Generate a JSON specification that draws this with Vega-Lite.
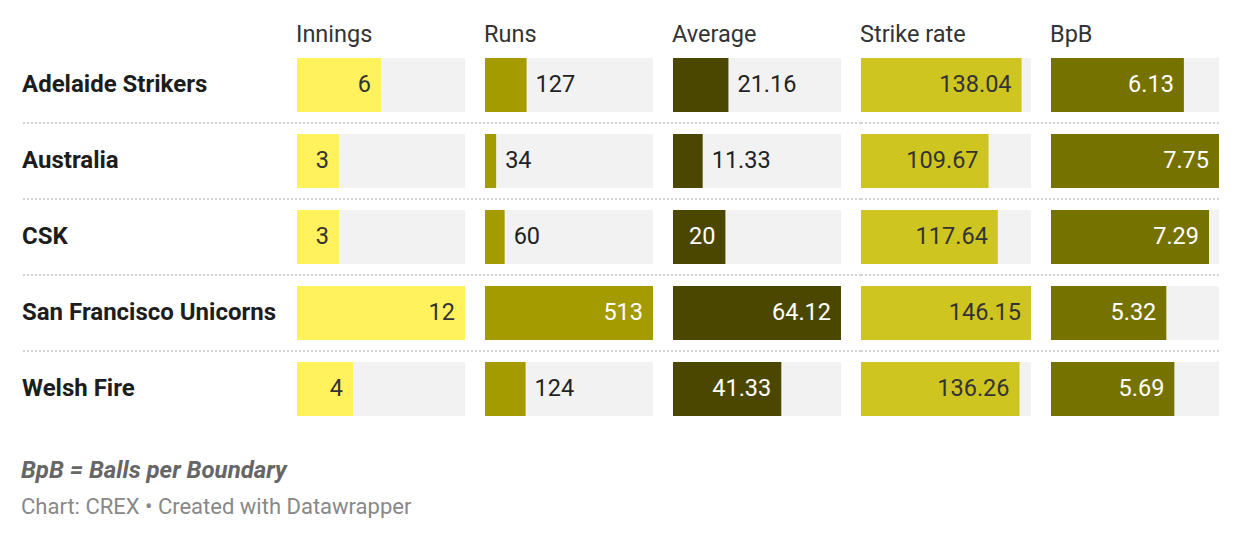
{
  "$schema": "https://vega.github.io/schema/vega-lite/v6.json",
  "description": "Datawrapper-style table of batting stats with bars in each cell.",
  "padding": {"left": 21, "top": 22, "right": 0, "bottom": 0},
  "background": "white",
  "bounds": "flush",
  "title": {
    "text": "BpB = Balls per Boundary",
    "subtitle": "Chart: CREX • Created with Datawrapper",
    "orient": "bottom",
    "anchor": "start",
    "offset": 32,
    "fontSize": 24,
    "fontWeight": "bold",
    "fontStyle": "italic",
    "color": "#666666",
    "subtitleFont": "Roboto",
    "subtitleFontSize": 22,
    "subtitleColor": "#888888",
    "subtitlePadding": 14
  },
  "data": {
    "values": [
      {"team": "Adelaide Strikers", "Innings": 6, "Runs": 127, "Average": 21.16, "StrikeRate": 138.04, "BpB": 6.13},
      {"team": "Australia", "Innings": 3, "Runs": 34, "Average": 11.33, "StrikeRate": 109.67, "BpB": 7.75},
      {"team": "CSK", "Innings": 3, "Runs": 60, "Average": 20, "StrikeRate": 117.64, "BpB": 7.29},
      {"team": "San Francisco Unicorns", "Innings": 12, "Runs": 513, "Average": 64.12, "StrikeRate": 146.15, "BpB": 5.32},
      {"team": "Welsh Fire", "Innings": 4, "Runs": 124, "Average": 41.33, "StrikeRate": 136.26, "BpB": 5.69}
    ]
  },
  "spacing": 0,
  "hconcat": [
    {
      "width": 275,
      "height": 380,
      "title": {"text": " "},
      "layer": [
        {
          "transform": [{"filter": "datum.team != 'Welsh Fire'"}],
          "mark": {"type": "rule", "strokeDash": [2, 2], "strokeWidth": 2, "color": "#d4d4d4"},
          "encoding": {"y": {"field": "team", "type": "nominal", "bandPosition": 1, "axis": null}}
        },
        {
          "mark": {"type": "text", "align": "left", "baseline": "middle", "font": "Roboto", "fontSize": 24, "fontWeight": "bold", "color": "#1d1d1d"},
          "encoding": {
            "y": {"field": "team", "type": "nominal", "axis": null},
            "x": {"value": 0},
            "text": {"field": "team"}
          }
        }
      ]
    },
    {
      "width": 188,
      "height": 380,
      "title": {"text": "Innings"},
      "encoding": {
        "y": {"field": "team", "type": "nominal", "axis": null}
      },
      "layer": [
        {
          "transform": [{"filter": "datum.team != 'Welsh Fire'"}],
          "mark": {"type": "rule", "strokeDash": [2, 2], "strokeWidth": 2, "color": "#d4d4d4"},
          "encoding": {"y": {"field": "team", "type": "nominal", "bandPosition": 1, "axis": null}}
        },
        {
          "mark": {"type": "bar", "color": "#f2f2f2", "height": {"band": 0.71}},
          "encoding": {"x": {"datum": 12, "type": "quantitative", "scale": {"domain": [0, 13.4286], "nice": false}, "axis": null}}
        },
        {
          "mark": {"type": "bar", "color": "#fff25c", "height": {"band": 0.71}},
          "encoding": {"x": {"field": "Innings", "type": "quantitative", "axis": null}}
        },
        {
          "transform": [{"filter": "datum.Innings / 12 * 168 >= length(toString(datum.Innings)) * 13 + 20"}],
          "mark": {"type": "text", "align": "right", "dx": -10, "font": "Roboto", "fontSize": 23.5, "color": "#333333"},
          "encoding": {"x": {"field": "Innings", "type": "quantitative", "axis": null}, "text": {"field": "Innings", "type": "nominal"}}
        },
        {
          "transform": [{"filter": "datum.Innings / 12 * 168 < length(toString(datum.Innings)) * 13 + 20"}],
          "mark": {"type": "text", "align": "left", "dx": 9, "font": "Roboto", "fontSize": 23.5, "color": "#222222"},
          "encoding": {"x": {"field": "Innings", "type": "quantitative", "axis": null}, "text": {"field": "Innings", "type": "nominal"}}
        }
      ]
    },
    {
      "width": 188,
      "height": 380,
      "title": {"text": "Runs"},
      "encoding": {
        "y": {"field": "team", "type": "nominal", "axis": null}
      },
      "layer": [
        {
          "transform": [{"filter": "datum.team != 'Welsh Fire'"}],
          "mark": {"type": "rule", "strokeDash": [2, 2], "strokeWidth": 2, "color": "#d4d4d4"},
          "encoding": {"y": {"field": "team", "type": "nominal", "bandPosition": 1, "axis": null}}
        },
        {
          "mark": {"type": "bar", "color": "#f2f2f2", "height": {"band": 0.71}},
          "encoding": {"x": {"datum": 513, "type": "quantitative", "scale": {"domain": [0, 574.071], "nice": false}, "axis": null}}
        },
        {
          "mark": {"type": "bar", "color": "#a39b00", "height": {"band": 0.71}},
          "encoding": {"x": {"field": "Runs", "type": "quantitative", "axis": null}}
        },
        {
          "transform": [{"filter": "datum.Runs / 513 * 168 >= length(toString(datum.Runs)) * 13 + 20"}],
          "mark": {"type": "text", "align": "right", "dx": -10, "font": "Roboto", "fontSize": 23.5, "color": "#ffffff"},
          "encoding": {"x": {"field": "Runs", "type": "quantitative", "axis": null}, "text": {"field": "Runs", "type": "nominal"}}
        },
        {
          "transform": [{"filter": "datum.Runs / 513 * 168 < length(toString(datum.Runs)) * 13 + 20"}],
          "mark": {"type": "text", "align": "left", "dx": 9, "font": "Roboto", "fontSize": 23.5, "color": "#222222"},
          "encoding": {"x": {"field": "Runs", "type": "quantitative", "axis": null}, "text": {"field": "Runs", "type": "nominal"}}
        }
      ]
    },
    {
      "width": 188,
      "height": 380,
      "title": {"text": "Average"},
      "encoding": {
        "y": {"field": "team", "type": "nominal", "axis": null}
      },
      "layer": [
        {
          "transform": [{"filter": "datum.team != 'Welsh Fire'"}],
          "mark": {"type": "rule", "strokeDash": [2, 2], "strokeWidth": 2, "color": "#d4d4d4"},
          "encoding": {"y": {"field": "team", "type": "nominal", "bandPosition": 1, "axis": null}}
        },
        {
          "mark": {"type": "bar", "color": "#f2f2f2", "height": {"band": 0.71}},
          "encoding": {"x": {"datum": 64.12, "type": "quantitative", "scale": {"domain": [0, 71.7533], "nice": false}, "axis": null}}
        },
        {
          "mark": {"type": "bar", "color": "#4b4700", "height": {"band": 0.71}},
          "encoding": {"x": {"field": "Average", "type": "quantitative", "axis": null}}
        },
        {
          "transform": [{"filter": "datum.Average / 64.12 * 168 >= length(toString(datum.Average)) * 13 + 20"}],
          "mark": {"type": "text", "align": "right", "dx": -10, "font": "Roboto", "fontSize": 23.5, "color": "#ffffff"},
          "encoding": {"x": {"field": "Average", "type": "quantitative", "axis": null}, "text": {"field": "Average", "type": "nominal"}}
        },
        {
          "transform": [{"filter": "datum.Average / 64.12 * 168 < length(toString(datum.Average)) * 13 + 20"}],
          "mark": {"type": "text", "align": "left", "dx": 9, "font": "Roboto", "fontSize": 23.5, "color": "#222222"},
          "encoding": {"x": {"field": "Average", "type": "quantitative", "axis": null}, "text": {"field": "Average", "type": "nominal"}}
        }
      ]
    },
    {
      "width": 190,
      "height": 380,
      "title": {"text": "Strike rate"},
      "encoding": {
        "y": {"field": "team", "type": "nominal", "axis": null}
      },
      "layer": [
        {
          "transform": [{"filter": "datum.team != 'Welsh Fire'"}],
          "mark": {"type": "rule", "strokeDash": [2, 2], "strokeWidth": 2, "color": "#d4d4d4"},
          "encoding": {"y": {"field": "team", "type": "nominal", "bandPosition": 1, "axis": null}}
        },
        {
          "mark": {"type": "bar", "color": "#f2f2f2", "height": {"band": 0.71}},
          "encoding": {"x": {"datum": 146.15, "type": "quantitative", "scale": {"domain": [0, 163.344], "nice": false}, "axis": null}}
        },
        {
          "mark": {"type": "bar", "color": "#cfc521", "height": {"band": 0.71}},
          "encoding": {"x": {"field": "StrikeRate", "type": "quantitative", "axis": null}}
        },
        {
          "mark": {"type": "text", "align": "right", "dx": -10, "font": "Roboto", "fontSize": 23.5, "color": "#333333"},
          "encoding": {"x": {"field": "StrikeRate", "type": "quantitative", "axis": null}, "text": {"field": "StrikeRate", "type": "nominal"}}
        }
      ]
    },
    {
      "width": 168,
      "height": 380,
      "title": {"text": "BpB"},
      "encoding": {
        "y": {"field": "team", "type": "nominal", "axis": null}
      },
      "layer": [
        {
          "transform": [{"filter": "datum.team != 'Welsh Fire'"}],
          "mark": {"type": "rule", "strokeDash": [2, 2], "strokeWidth": 2, "color": "#d4d4d4"},
          "encoding": {"y": {"field": "team", "type": "nominal", "bandPosition": 1, "axis": null}}
        },
        {
          "mark": {"type": "bar", "color": "#f2f2f2", "height": {"band": 0.71}},
          "encoding": {"x": {"datum": 7.75, "type": "quantitative", "scale": {"domain": [0, 7.75], "nice": false}, "axis": null}}
        },
        {
          "mark": {"type": "bar", "color": "#767200", "height": {"band": 0.71}},
          "encoding": {"x": {"field": "BpB", "type": "quantitative", "axis": null}}
        },
        {
          "mark": {"type": "text", "align": "right", "dx": -10, "font": "Roboto", "fontSize": 23.5, "color": "#ffffff"},
          "encoding": {"x": {"field": "BpB", "type": "quantitative", "axis": null}, "text": {"field": "BpB", "type": "nominal"}}
        }
      ]
    }
  ],
  "config": {
    "view": {"stroke": null},
    "scale": {"bandPaddingInner": 0, "bandPaddingOuter": 0},
    "title": {
      "font": "Roboto",
      "fontSize": 23.5,
      "fontWeight": "normal",
      "color": "#333333",
      "anchor": "start",
      "offset": 1
    }
  }
}
